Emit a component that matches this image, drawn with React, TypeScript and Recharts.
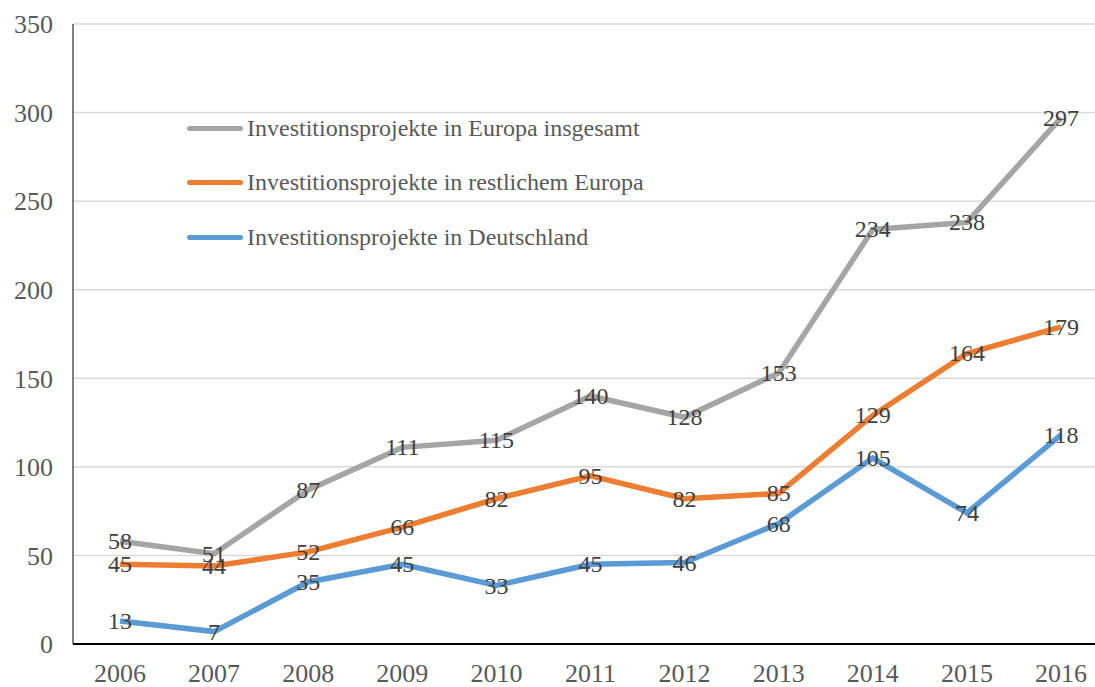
import React from "react";
import {
  LineChart,
  Line,
  XAxis,
  YAxis,
  CartesianGrid,
  LabelList,
} from "recharts";

const years = ["2006", "2007", "2008", "2009", "2010", "2011", "2012", "2013", "2014", "2015", "2016"];
const europaGesamt = [58, 51, 87, 111, 115, 140, 128, 153, 234, 238, 297];
const restlichesEuropa = [45, 44, 52, 66, 82, 95, 82, 85, 129, 164, 179];
const deutschland = [13, 7, 35, 45, 33, 45, 46, 68, 105, 74, 118];
const yTicks = [0, 50, 100, 150, 200, 250, 300, 350];

const seriesList = [
  { key: "gesamt", name: "Investitionsprojekte in Europa insgesamt", color: "#a5a5a5" },
  { key: "rest", name: "Investitionsprojekte in restlichem Europa", color: "#ed7d31" },
  { key: "de", name: "Investitionsprojekte in Deutschland", color: "#5b9bd5" },
];

const data = years.map((year, i) => ({
  year,
  gesamt: europaGesamt[i],
  rest: restlichesEuropa[i],
  de: deutschland[i],
}));

const font = "'Liberation Serif', 'Times New Roman', serif";

const PointLabel = (props: any) => {
  const { x, y, value } = props;
  return (
    <text
      x={x}
      y={y}
      textAnchor="middle"
      dominantBaseline="central"
      style={{ fontFamily: font, fontSize: 24, fill: "#404040" }}
    >
      {value}
    </text>
  );
};

// legend sits inside the plot, so draw it as a plain overlay
const LegendBox = () => (
  <div
    style={{
      position: "absolute",
      left: 187,
      top: 101,
      fontFamily: font,
      fontSize: 24,
      color: "#595959",
    }}
  >
    {seriesList.map((s) => (
      <div key={s.key} style={{ display: "flex", alignItems: "center", height: 54.5 }}>
        <div
          style={{
            width: 56,
            height: 5,
            borderRadius: 3,
            background: s.color,
            marginRight: 4,
          }}
        />
        <span>{s.name}</span>
      </div>
    ))}
  </div>
);

export default function App() {
  return (
    <div
      style={{
        position: "absolute",
        left: 0,
        top: 0,
        width: 1095,
        height: 687,
        overflow: "hidden",
        background: "#fff",
        fontFamily: font,
      }}
    >
      <LineChart
        width={1108}
        height={687}
        data={data}
        margin={{ top: 24, right: 0, bottom: 0, left: 0 }}
        style={{ fontFamily: font }}
      >
        <CartesianGrid vertical={false} stroke="#d9d9d9" strokeWidth={1.5} />
        <XAxis
          dataKey="year"
          height={43}
          padding={{ left: 47, right: 47 }}
          tickLine={false}
          tickMargin={14}
          axisLine={{ stroke: "#000", strokeWidth: 2 }}
          tick={{ fontFamily: font, fontSize: 26, fill: "#595959" }}
          interval={0}
        />
        <YAxis
          width={73}
          domain={[0, 350]}
          ticks={yTicks}
          tickLine={false}
          axisLine={{ stroke: "#000", strokeWidth: 1 }}
          tick={{ fontFamily: font, fontSize: 26, fill: "#595959", dx: -12 }}
        />
        {seriesList.map((s) => (
          <Line
            key={s.key}
            dataKey={s.key}
            name={s.name}
            stroke={s.color}
            strokeWidth={5.5}
            dot={false}
            isAnimationActive={false}
          >
            <LabelList dataKey={s.key} content={<PointLabel />} />
          </Line>
        ))}
      </LineChart>
      <LegendBox />
    </div>
  );
}
